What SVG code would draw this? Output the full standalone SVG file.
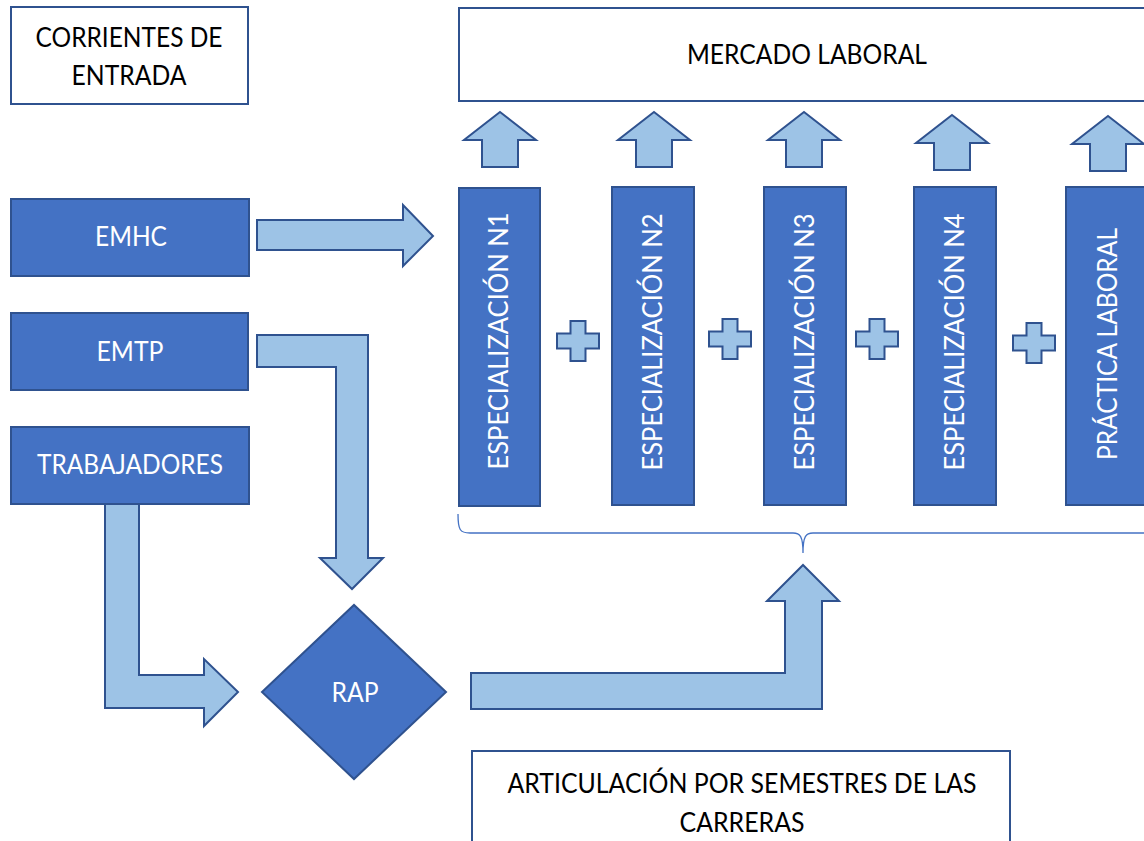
<svg xmlns="http://www.w3.org/2000/svg" width="1144" height="841" viewBox="0 0 1144 841">
<style>
.box{fill:#4472C4;stroke:#2F528F;stroke-width:2}
.wbox{fill:#FFFFFF;stroke:#2F528F;stroke-width:2}
.arr{fill:#9DC3E6;stroke:#2F528F;stroke-width:2;stroke-linejoin:miter}
.brace{fill:none;stroke:#4472C4;stroke-width:1.3}
.t{font-family:Lato,"Open Sans","Liberation Sans",sans-serif;font-size:26px;text-anchor:middle}
.dk{fill:#000000}
.wt{fill:#FFFFFF}
</style>
<defs>
<path id="up" class="arr" d="M0,0 L36,28 L18,28 L18,55 L-18,55 L-18,28 L-36,28 Z"/>
<path id="plus" class="arr" d="M-7.5,-20 L7.5,-20 L7.5,-7.5 L21,-7.5 L21,7.5 L7.5,7.5 L7.5,20 L-7.5,20 L-7.5,7.5 L-21,7.5 L-21,-7.5 L-7.5,-7.5 Z"/>
</defs>

<g id="corrientes">
<rect class="wbox" x="11" y="7" width="237" height="97"/>
<text class="t dk" x="129" y="47" textLength="187" lengthAdjust="spacingAndGlyphs">CORRIENTES DE</text>
<text class="t dk" x="129" y="85" textLength="115" lengthAdjust="spacingAndGlyphs">ENTRADA</text>
</g>

<g id="mercado">
<rect class="wbox" x="459" y="8" width="700" height="93"/>
<text class="t dk" x="807" y="64" textLength="240" lengthAdjust="spacingAndGlyphs">MERCADO LABORAL</text>
</g>

<g id="emhc">
<rect class="box" x="11" y="199" width="238" height="77"/>
<text class="t wt" x="131" y="246" textLength="72" lengthAdjust="spacingAndGlyphs">EMHC</text>
</g>
<g id="emtp">
<rect class="box" x="11" y="313" width="237" height="77"/>
<text class="t wt" x="130" y="361" textLength="67" lengthAdjust="spacingAndGlyphs">EMTP</text>
</g>
<g id="trabajadores">
<rect class="box" x="11" y="427" width="238" height="77"/>
<text class="t wt" x="130" y="474" textLength="186" lengthAdjust="spacingAndGlyphs">TRABAJADORES</text>
</g>

<g id="rap">
<path class="box" d="M262,692 L354,605 L446,692 L354,779 Z"/>
<text class="t wt" x="355" y="702" textLength="47" lengthAdjust="spacingAndGlyphs">RAP</text>
</g>

<g id="articulacion">
<rect class="wbox" x="472" y="751" width="538" height="100"/>
<text class="t dk" x="742" y="793" textLength="469" lengthAdjust="spacingAndGlyphs">ARTICULACIÓN POR SEMESTRES DE LAS</text>
<text class="t dk" x="742" y="832" textLength="125" lengthAdjust="spacingAndGlyphs">CARRERAS</text>
</g>

<g id="n1">
<rect class="box" x="459" y="188" width="81" height="318"/>
<text class="t wt" transform="translate(508,341) rotate(-90)" x="0" y="0" textLength="257" lengthAdjust="spacingAndGlyphs">ESPECIALIZACIÓN N1</text>
</g>
<g id="n2">
<rect class="box" x="612" y="187" width="82" height="318"/>
<text class="t wt" transform="translate(662,342) rotate(-90)" x="0" y="0" textLength="257" lengthAdjust="spacingAndGlyphs">ESPECIALIZACIÓN N2</text>
</g>
<g id="n3">
<rect class="box" x="764" y="187" width="82" height="318"/>
<text class="t wt" transform="translate(814,342) rotate(-90)" x="0" y="0" textLength="257" lengthAdjust="spacingAndGlyphs">ESPECIALIZACIÓN N3</text>
</g>
<g id="n4">
<rect class="box" x="914" y="187" width="82" height="318"/>
<text class="t wt" transform="translate(964,342) rotate(-90)" x="0" y="0" textLength="257" lengthAdjust="spacingAndGlyphs">ESPECIALIZACIÓN N4</text>
</g>
<g id="practica">
<rect class="box" x="1066" y="187" width="82" height="318"/>
<text class="t wt" transform="translate(1117,344) rotate(-90)" x="0" y="0" textLength="232" lengthAdjust="spacingAndGlyphs">PRÁCTICA LABORAL</text>
</g>

<g id="connectors">
<use href="#up" x="500" y="112"/>
<use href="#up" x="654" y="112"/>
<use href="#up" x="804" y="112"/>
<use href="#up" x="952" y="115"/>
<use href="#up" x="1108" y="116"/>
<use href="#plus" x="578" y="341"/>
<use href="#plus" x="730" y="339"/>
<use href="#plus" x="877" y="339"/>
<use href="#plus" x="1034" y="343"/>
<path class="arr" d="M257,220 L403,220 L403,205 L433,236 L403,266 L403,250 L257,250 Z"/>
<path class="arr" d="M257,335 L368,335 L368,558 L383,558 L352,589 L320,558 L336,558 L336,367 L257,367 Z"/>
<path class="arr" d="M105,504 L139,504 L139,675 L204,675 L204,659 L238,692 L204,726 L204,708 L105,708 Z"/>
<path class="arr" d="M471,673 L785,673 L785,601 L767,601 L803,565 L839,601 L822,601 L822,709 L471,709 Z"/>
<path class="brace" d="M458,514 C458,530 460,533 470,533 L793,533 C800,533 803,536 803,553 M803,553 C803,536 806,533 813,533 L1150,533"/>
</g>
</svg>
